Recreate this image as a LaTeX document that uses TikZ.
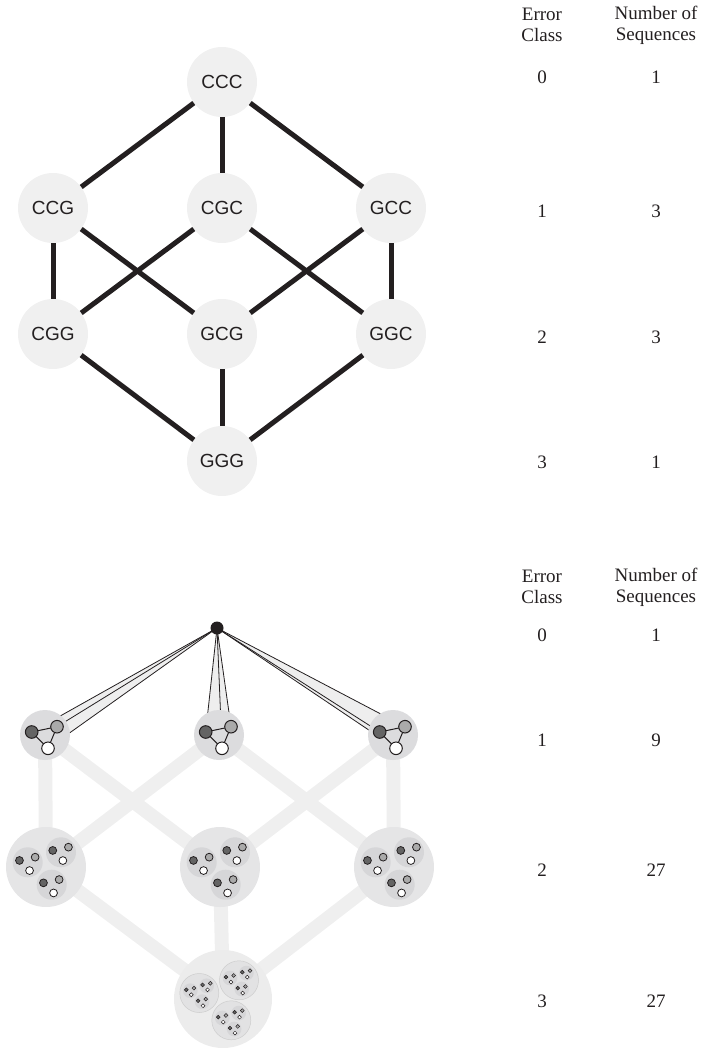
\documentclass[tikz,border=0pt]{standalone}
\usepackage{fontspec}
\setmainfont{Liberation Serif}
\newfontfamily\labelfont{Liberation Sans}
\usetikzlibrary{calc}
\pgfdeclarelayer{bg}
\pgfsetlayers{bg,main}

\definecolor{ink}{RGB}{35,31,32}
\definecolor{seqfill}{RGB}{240,240,240}
\definecolor{ghost}{RGB}{239,239,239}
\definecolor{fanfill}{RGB}{238,238,238}
\definecolor{grayA}{RGB}{220,220,222}
\definecolor{grayB}{RGB}{229,229,230}
\definecolor{subB}{RGB}{214,214,216}
\definecolor{grayC}{RGB}{236,236,236}
\definecolor{subC}{RGB}{226,226,227}
\definecolor{subCrim}{RGB}{205,205,205}
\definecolor{subsubC}{RGB}{214,214,216}
\definecolor{dotdark}{RGB}{100,100,100}
\definecolor{dotlight}{RGB}{170,170,170}

\tikzset{
  seq/.style={circle, fill=seqfill, minimum size=70, inner sep=0,
    font=\labelfont\fontsize{19}{19}\selectfont, text=ink},
  bond/.style={draw=ink, line width=5},
  col/.style={font=\fontsize{19}{21}\selectfont, align=center, text=ink},
  lvlA/.style={circle, fill=grayA, minimum size=50, inner sep=0},
  lvlB/.style={circle, fill=grayB, minimum size=80, inner sep=0},
  lvlC/.style={circle, fill=grayC, minimum size=98, inner sep=0},
  apexdot/.style={circle, fill=ink, minimum size=13, inner sep=0},
  ghostedge/.style={draw=ghost, line width=14},
  fanline/.style={draw=ink, line width=0.8},
  rim/.style={draw=ink, line width=1},
  subfill/.style={fill=subB},
}

% three nucleotide dots (dark, light, white) around the current origin
\newcommand\triodots{%
  \filldraw[rim, fill=dotdark] (-13.3,-3) circle (6.3);
  \filldraw[rim, fill=dotlight] (12,-8.3) circle (6.3);
  \filldraw[rim, fill=white] (3,13.3) circle (6.3);
}
% three trios, each on its own disc
\newcommand\clusterdots{%
  \foreach \ua/\ub in {-18.3/-4.7, 15/-14.7, 5.7/17.7} {
    \fill[subfill] (\ua,\ub) circle (15);
    \begin{scope}[shift={(\ua,\ub)}, scale=0.62]
      \triodots
    \end{scope}
  }%
}

\begin{document}
\begin{tikzpicture}[x=1pt, y=-1pt]
\useasboundingbox (0,0) rectangle (707,1048);

% ---------- sequence cube ----------
\node[seq] (CCC) at (222,82) {CCC};
\node[seq] (CCG) at (53,208) {CCG};
\node[seq] (CGC) at (222,208) {CGC};
\node[seq] (GCC) at (391,208) {GCC};
\node[seq] (CGG) at (53,334) {CGG};
\node[seq] (GCG) at (222,334) {GCG};
\node[seq] (GGC) at (391,334) {GGC};
\node[seq] (GGG) at (222,461) {GGG};

\draw[bond] (CCC) -- (CCG);
\draw[bond] (CCC) -- (CGC);
\draw[bond] (CCC) -- (GCC);
\draw[bond] (CCG) -- (CGG);
\draw[bond] (CCG) -- (GCG);
\draw[bond] (CGC) -- (CGG);
\draw[bond] (CGC) -- (GGC);
\draw[bond] (GCC) -- (GCG);
\draw[bond] (GCC) -- (GGC);
\draw[bond] (CGG) -- (GGG);
\draw[bond] (GCG) -- (GGG);
\draw[bond] (GGC) -- (GGG);

% table for the cube
\node[col] (ecA) at (542,25) {Error\\Class};
\node[col] (nsA) at (656,25) {Number of\\Sequences};
\node[col] (ecA0) at (542,77) {0};
\node[col] (nsA0) at (656,77) {1};
\node[col] (ecA1) at (542,211) {1};
\node[col] (nsA1) at (656,211) {3};
\node[col] (ecA2) at (542,337) {2};
\node[col] (nsA2) at (656,337) {3};
\node[col] (ecA3) at (542,462) {3};
\node[col] (nsA3) at (656,462) {1};

% ---------- nested error classes ----------
\node[apexdot] (apex) at (217,628) {};
\node[lvlA] (b1) at (45,735) {};
\node[lvlA] (b2) at (219,735) {};
\node[lvlA] (b3) at (393,735) {};
\node[lvlB] (c1) at (46,867) {};
\node[lvlB] (c2) at (220,867) {};
\node[lvlB] (c3) at (394,867) {};
\node[lvlC] (d) at (223,999) {};

\begin{pgfonlayer}{bg}
  \draw[ghostedge] (b1.center) -- (c1.center);
  \draw[ghostedge] (b1.center) -- (c2.center);
  \draw[ghostedge] (b2.center) -- (c1.center);
  \draw[ghostedge] (b2.center) -- (c3.center);
  \draw[ghostedge] (b3.center) -- (c2.center);
  \draw[ghostedge] (b3.center) -- (c3.center);
  \draw[ghostedge] (c1.center) -- (d.center);
  \draw[ghostedge] (c2.center) -- (d.center);
  \draw[ghostedge] (c3.center) -- (d.center);
  \foreach \n in {b1,b2,b3} {
    \path ($(\n.center)+(-13.3,-3)$) coordinate (\n-d)
          ($(\n.center)+(12,-8.3)$) coordinate (\n-l)
          ($(\n.center)+(3,13.3)$) coordinate (\n-w);
    \fill[fanfill] (apex.center) -- (\n-d) -- (\n-l) -- cycle;
    \fill[fanfill] (apex.center) -- (\n-l) -- (\n-w) -- cycle;
    \fill[fanfill] (apex.center) -- (\n-d) -- (\n-w) -- cycle;
    \draw[fanline] (apex.center) -- (\n-d);
    \draw[fanline] (apex.center) -- (\n-l);
    \draw[fanline] (apex.center) -- (\n-w);
  }
\end{pgfonlayer}

% class 1: single trios joined by bonds
\foreach \n in {b1,b2,b3} {
  \begin{scope}[shift={(\n.center)}]
    \draw[rim] (-13.3,-3) -- (12,-8.3) -- (3,13.3) -- cycle;
    \triodots
  \end{scope}
}

% class 2: clusters of trios
\foreach \n in {c1,c2,c3} {
  \begin{scope}[shift={(\n.center)}, rim/.style={draw=ink, line width=0.8}]
    \clusterdots
  \end{scope}
}

% class 3: clusters of clusters
\begin{scope}[shift={(d.center)}, rim/.style={draw=ink, line width=0.5},
              subfill/.style={fill=subsubC}]
  \foreach \va/\vb in {-23.7/-6, 16/-18.7, 8.3/21.3} {
    \filldraw[fill=subC, draw=subCrim, line width=0.5] (\va,\vb) circle (19.5);
    \begin{scope}[shift={(\va,\vb)}, scale=0.49]
      \clusterdots
    \end{scope}
  }
\end{scope}

% table for the nested classes
\node[col] (ecB) at (542,587) {Error\\Class};
\node[col] (nsB) at (656,587) {Number of\\Sequences};
\node[col] (ecB0) at (542,635) {0};
\node[col] (nsB0) at (656,635) {1};
\node[col] (ecB1) at (542,740) {1};
\node[col] (nsB1) at (656,740) {9};
\node[col] (ecB2) at (542,870) {2};
\node[col] (nsB2) at (656,870) {27};
\node[col] (ecB3) at (542,1001) {3};
\node[col] (nsB3) at (656,1001) {27};
\end{tikzpicture}
\end{document}
